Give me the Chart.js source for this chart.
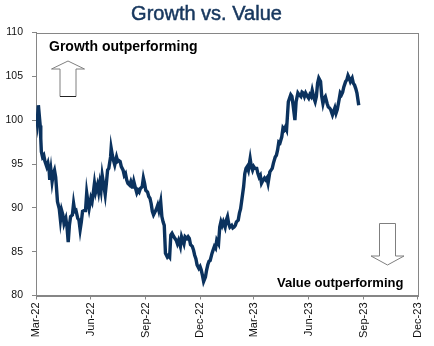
<!DOCTYPE html>
<html>
<head>
<meta charset="utf-8">
<title>Growth vs. Value</title>
<script src="https://cdn.jsdelivr.net/npm/chart.js"></script>
<style>
  html, body { margin: 0; padding: 0; background: #fff; }
  canvas { display: block; }
</style>
</head>
<body>
<canvas id="growthValueChart" width="434" height="346"></canvas>
<script>
// Growth / Value relative performance index
// x = days since 1 Mar 2022
const dayOffsets = [
  1, 2, 4, 7, 8, 9, 11, 13, 15, 18, 20, 22, 23, 25, 27, 29, 31, 33, 34, 36,
  39, 41, 43, 45, 47, 50, 52, 54, 56, 58, 61, 63, 65, 67, 70, 72, 74, 76, 78, 81,
  83, 85, 87, 89, 92, 94, 96, 98, 100, 103, 105, 107, 109, 111, 114, 116, 118, 120, 122, 125,
  126, 128, 130, 132, 135, 137, 139, 141, 143, 146, 148, 150, 152, 154, 157, 159, 161, 162, 164, 167,
  169, 171, 173, 175, 178, 180, 182, 184, 187, 189, 191, 193, 195, 197, 200, 202, 204, 206, 209, 211,
  213, 215, 217, 220, 222, 224, 226, 228, 231, 233, 235, 237, 239, 242, 244, 246, 248, 250, 253, 255,
  257, 259, 262, 264, 266, 268, 270, 273, 275, 277, 279, 281, 284, 286, 288, 290, 292, 295, 297, 299,
  301, 303, 306, 308, 310, 312, 314, 317, 319, 321, 323, 325, 328, 330, 332, 334, 336, 339, 341, 343,
  345, 348, 350, 352, 354, 356, 359, 361, 363, 365, 367, 370, 372, 374, 376, 378, 381, 383, 385, 387,
  389, 392, 394, 396, 398, 401, 403, 405, 407, 409, 412, 414, 416, 418, 420, 423, 425, 427, 429, 431,
  434, 436, 439, 441, 444, 446, 448, 450, 452, 455, 457, 459, 461, 463, 466, 468, 470, 472, 474, 477,
  479, 481, 483, 485, 488, 490, 492, 494, 497, 499, 501, 503, 505, 508, 510, 512, 514, 516, 519, 521,
  523, 525, 527, 530, 532, 534, 536, 538, 541
];
const ratioValues = [
  100.3, 99.8, 101.7, 99.4, 97.9, 96.4, 95.8, 96.0, 95.3, 94.7, 95.1, 94.3, 93.2, 94.3, 93.0, 93.9, 94.3, 93.5, 92.6, 90.7,
  89.9, 88.6, 89.7, 89.2, 88.2, 88.8, 87.8, 86.1, 88.0, 89.0, 89.2, 90.5, 89.6, 89.7, 88.8, 88.6, 87.5, 88.4, 89.6, 89.7,
  89.7, 91.7, 90.7, 89.9, 91.1, 90.7, 91.7, 92.8, 91.8, 92.6, 91.8, 92.8, 92.0, 93.7, 92.4, 91.5, 92.8, 94.3, 94.5, 95.8,
  96.8, 96.0, 95.4, 94.9, 95.8, 95.3, 95.4, 95.3, 94.7, 94.3, 93.7, 93.9, 93.2, 92.8, 92.6, 93.0, 92.6, 92.2, 93.0, 92.2,
  91.7, 92.0, 91.8, 92.2, 92.4, 93.4, 92.8, 92.0, 91.8, 91.3, 91.1, 90.5, 89.6, 89.2, 89.6, 89.9, 90.3, 89.7, 90.7, 89.0,
  88.4, 88.0, 84.8, 84.4, 84.6, 84.4, 86.9, 87.1, 86.7, 86.5, 86.3, 85.9, 86.3, 85.6, 86.7, 86.3, 85.9, 86.7, 86.5, 86.7,
  86.5, 85.8, 85.6, 85.2, 84.6, 84.2, 83.5, 83.1, 83.3, 82.9, 82.3, 81.6, 82.1, 82.9, 83.5, 83.9, 84.0, 84.8, 85.2, 85.6,
  85.4, 86.3, 85.9, 87.8, 88.4, 88.0, 88.4, 87.8, 88.6, 89.0, 88.2, 87.8, 88.0, 87.7, 87.8, 88.0, 88.4, 88.6, 89.4, 89.9,
  90.9, 92.4, 93.9, 94.5, 94.7, 94.3, 95.6, 94.7, 94.3, 94.7, 94.5, 94.5, 93.9, 93.5, 93.7, 92.8, 93.2, 93.4, 93.2, 93.4,
  92.8, 94.1, 94.3, 94.5, 95.1, 95.8, 96.0, 96.6, 97.5, 97.4, 98.1, 99.1, 98.9, 99.2, 98.9, 102.1, 102.5, 102.9, 102.7, 101.7,
  100.0, 102.1, 103.1, 102.9, 102.7, 103.2, 103.1, 102.7, 103.1, 102.7, 102.5, 102.9, 102.7, 103.4, 102.5, 102.1, 102.7, 104.2, 104.8, 104.4,
  102.7, 101.9, 102.5, 102.7, 101.9, 101.5, 101.4, 101.2, 100.6, 101.0, 101.4, 100.8, 101.2, 102.3, 103.1, 102.9, 103.2, 103.8, 104.4, 104.6,
  105.1, 104.8, 104.4, 104.8, 104.2, 104.0, 103.6, 103.1, 101.7
];

const quarterDays = [0, 92, 184, 275, 365, 457, 549, 640];
const quarterLabels = ['Mar-22', 'Jun-22', 'Sep-22', 'Dec-22', 'Mar-23', 'Jun-23', 'Sep-23', 'Dec-23'];
const yTickValues = [80, 85, 90, 95, 100, 105, 110];

const FONT = "'Liberation Sans', Arial, sans-serif";
const AXIS_GREY = '#868686';

// box around the plot area (axes + top/right edges)
const frameBox = {
  id: 'frameBox',
  beforeDatasetsDraw(chart) {
    const { ctx, chartArea: a } = chart;
    ctx.save();
    ctx.strokeStyle = AXIS_GREY;
    ctx.lineWidth = 1;
    ctx.strokeRect(Math.round(a.left) + 0.5, Math.round(a.top) + 0.5,
      Math.round(a.right - a.left), Math.round(a.bottom - a.top));
    ctx.restore();
  }
};

function hollowArrow(ctx, cx, shaftTop, shaftBottom, headY, tipY, up) {
  // shaft 16px wide, head 33px wide
  ctx.beginPath();
  if (up) {
    ctx.moveTo(cx, tipY);
    ctx.lineTo(cx + 16.5, headY);
    ctx.lineTo(cx + 8, headY);
    ctx.lineTo(cx + 8, shaftBottom);
    ctx.lineTo(cx - 8, shaftBottom);
    ctx.lineTo(cx - 8, headY);
    ctx.lineTo(cx - 16.5, headY);
  } else {
    ctx.moveTo(cx, tipY);
    ctx.lineTo(cx + 16.5, headY);
    ctx.lineTo(cx + 8, headY);
    ctx.lineTo(cx + 8, shaftTop);
    ctx.lineTo(cx - 8, shaftTop);
    ctx.lineTo(cx - 8, headY);
    ctx.lineTo(cx - 16.5, headY);
  }
  ctx.closePath();
  ctx.fillStyle = '#fff';
  ctx.fill();
  ctx.strokeStyle = '#7f7f7f';
  ctx.lineWidth = 1;
  ctx.stroke();
  if (up) {
    ctx.beginPath();
    ctx.moveTo(cx - 8, shaftBottom);
    ctx.lineTo(cx + 8, shaftBottom);
    ctx.strokeStyle = '#222';
    ctx.stroke();
  }
}

// title, labels and arrows
const decorations = {
  id: 'decorations',
  afterDraw(chart) {
    const ctx = chart.ctx;
    ctx.save();
    ctx.fillStyle = '#17375e';
    ctx.strokeStyle = '#17375e';
    ctx.lineWidth = 0.5;
    ctx.font = '20px ' + FONT;
    ctx.textAlign = 'center';
    ctx.textBaseline = 'alphabetic';
    ctx.fillText('Growth vs. Value', 206.5, 19.5);
    ctx.strokeText('Growth vs. Value', 206.5, 19.5);

    ctx.fillStyle = '#000';
    ctx.textAlign = 'left';
    ctx.font = 'bold 14px ' + FONT;
    ctx.fillText('Growth outperforming', 49, 51);
    ctx.font = 'bold 13px ' + FONT;
    ctx.fillText('Value outperforming', 277, 287);

    hollowArrow(ctx, 68, 69, 96.5, 69, 61, true);
    hollowArrow(ctx, 387.5, 223.5, 256, 256, 265, false);
    ctx.restore();
  }
};

const ctx = document.getElementById('growthValueChart').getContext('2d');
new Chart(ctx, {
  type: 'line',
  data: {
    datasets: [{
      label: 'Growth vs. Value',
      data: dayOffsets.map((d, i) => ({ x: d, y: ratioValues[i] })),
      borderColor: '#0b325e',
      borderWidth: 3.4,
      pointRadius: 0,
      tension: 0,
      fill: false
    }]
  },
  options: {
    responsive: false,
    animation: false,
    devicePixelRatio: 1,
    layout: { padding: { top: 32.5, right: 11.3, left: 0, bottom: 0 } },
    plugins: {
      legend: { display: false },
      tooltip: { enabled: false },
      title: { display: false }
    },
    scales: {
      x: {
        type: 'linear',
        min: quarterDays[0],
        max: quarterDays[quarterDays.length - 1],
        afterBuildTicks(scale) {
          scale.ticks = quarterDays.map(v => ({ value: v }));
        },
        afterFit(scale) { scale.height = 50.5; },
        grid: { drawOnChartArea: false, drawTicks: true, tickLength: 4, color: AXIS_GREY },
        border: { display: true, color: AXIS_GREY },
        ticks: {
          autoSkip: false,
          minRotation: 90,
          maxRotation: 90,
          padding: 3,
          color: '#111',
          font: { family: FONT, size: 11 },
          callback: (v) => quarterLabels[quarterDays.indexOf(v)]
        }
      },
      y: {
        min: 80,
        max: 110,
        afterBuildTicks(scale) {
          scale.ticks = yTickValues.map(v => ({ value: v }));
        },
        afterFit(scale) { scale.width = 36; },
        grid: { drawOnChartArea: false, drawTicks: true, tickLength: 4, color: AXIS_GREY },
        border: { display: true, color: AXIS_GREY },
        ticks: {
          padding: 9,
          color: '#111',
          font: { family: FONT, size: 10.5 }
        }
      }
    }
  },
  plugins: [frameBox, decorations]
});
</script>
</body>
</html>
